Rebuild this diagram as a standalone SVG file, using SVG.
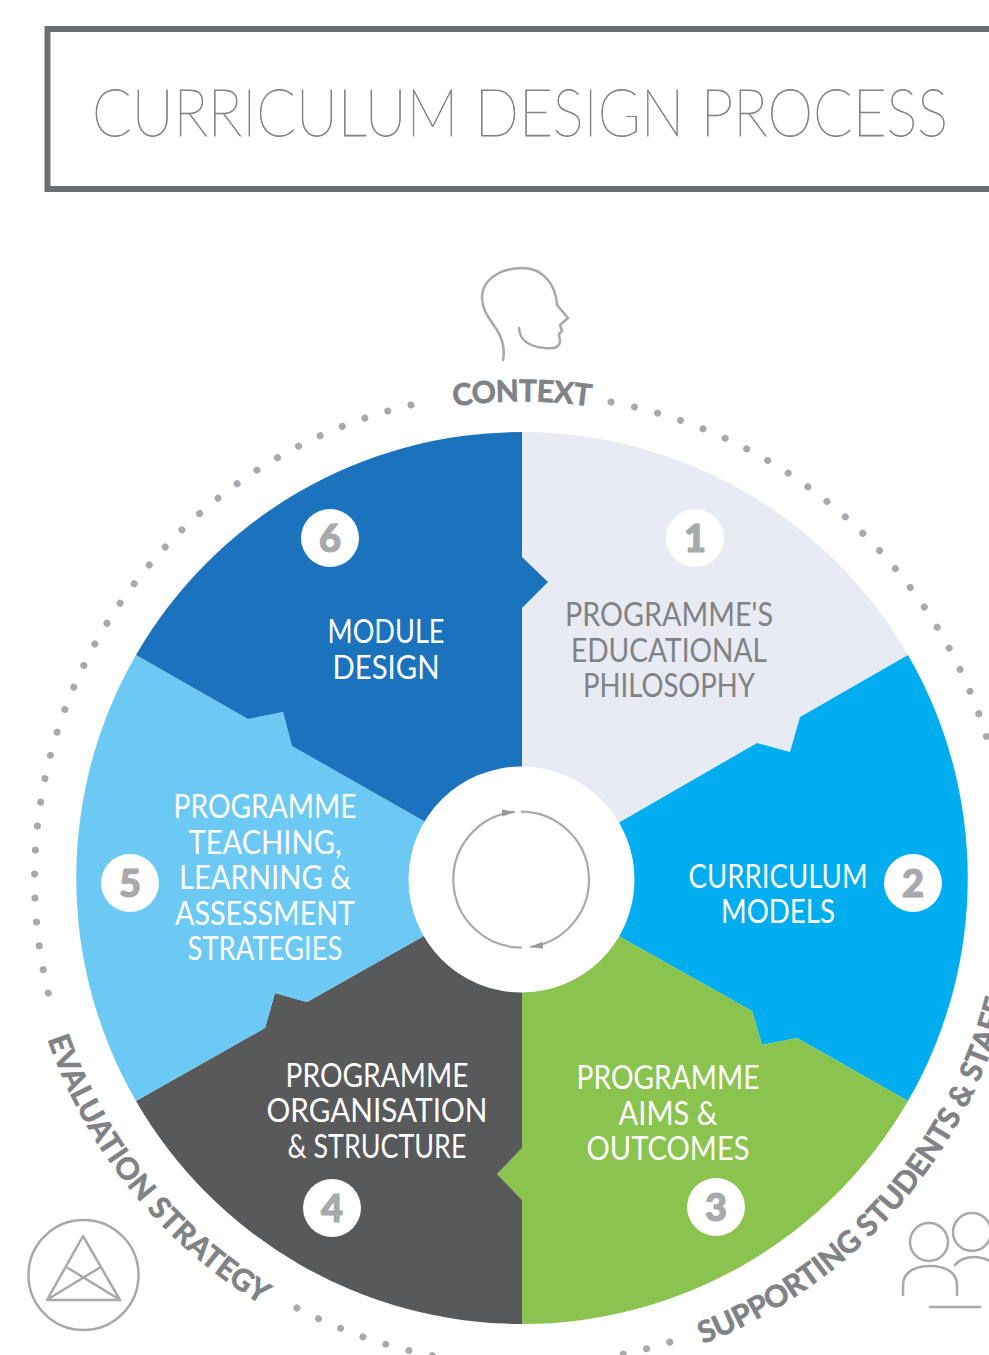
<svg xmlns="http://www.w3.org/2000/svg" width="989" height="1355" viewBox="0 0 989 1355">
<style>
text{font-family:"Lato","Liberation Sans",sans-serif}
.ttl{font-size:67px;font-weight:100;fill:#808285;stroke:#808285;stroke-width:.8;text-anchor:middle}
.lbl{font-size:33px;font-weight:400;text-anchor:middle;fill:#fff}
.dk{fill:#808285}
.num{font-size:38px;font-weight:900;fill:#a7a9ac;text-anchor:middle;stroke:#a7a9ac;stroke-width:1.2}
.arc{font-size:30px;font-weight:700;fill:#808285;stroke:#808285;stroke-width:.7}
.dots{fill:none;stroke:#a7a9ac;stroke-width:7;stroke-linecap:round;stroke-dasharray:.01 24}
.ic{fill:none;stroke:#a7a9ac;stroke-width:2.5;stroke-linecap:round;stroke-linejoin:round}
.ring{fill:none;stroke:#a7a9ac;stroke-width:2.2}
.badge{fill:#fff}
</style>
<defs>
<marker id="ah" markerUnits="userSpaceOnUse" markerWidth="15" markerHeight="10" refX="13" refY="5" orient="auto"><path d="M13 5 L0 1.5 V8.5 Z" fill="#98999c"/></marker>
<path id="pEval" d="M47.5 1039 A500 500 0 0 0 311 1331"/>
<path id="pSupp" d="M703 1344 A500 500 0 0 0 1022 878"/>
<path id="pCtx" d="M284 465 A477 477 0 0 1 760 465"/>
</defs>
<rect width="989" height="1355" fill="#fff"/>
<g id="title">
<rect x="47.5" y="29" width="1000" height="160" fill="#fff" stroke="#6d6e71" stroke-width="6"/>
<text class="ttl" x="520" y="136" textLength="856" lengthAdjust="spacingAndGlyphs">CURRICULUM DESIGN PROCESS</text>
</g>
<g id="dotted-ring">
<path class="dots" d="M611 402 A486 486 0 0 1 1006 836"/>
<path class="dots" d="M411 405 A486 486 0 0 0 49 996"/>
<path class="dots" d="M297 1308 A486 486 0 0 0 670 1342"/>
</g>
<g id="seg1">
<path fill="#e8ebf3" d="M522 432 A446 446 0 0 1 908 655 L800 717 L790 752 L757 743 L620 822 L522 878 L522 608 L548 582 L522 557 Z"/>
<circle class="badge" cx="695" cy="538" r="29"/><text class="num" x="695" y="552">1</text>
<text class="lbl dk" x="669" y="626" textLength="208" lengthAdjust="spacingAndGlyphs">PROGRAMME'S</text>
<text class="lbl dk" x="669" y="662" textLength="196" lengthAdjust="spacingAndGlyphs">EDUCATIONAL</text>
<text class="lbl dk" x="669" y="697" textLength="172" lengthAdjust="spacingAndGlyphs">PHILOSOPHY</text>
</g>
<g id="seg2">
<path fill="#00aeef" d="M908 655 A446 446 0 0 1 908 1101 L797 1038 L762 1045 L752 1011 L622 938 L522 878 L620 822 L757 743 L790 752 L800 717 Z"/>
<circle class="badge" cx="913" cy="883" r="29"/><text class="num" x="913" y="897">2</text>
<text class="lbl" x="778" y="888" textLength="179" lengthAdjust="spacingAndGlyphs">CURRICULUM</text>
<text class="lbl" x="778" y="923" textLength="114" lengthAdjust="spacingAndGlyphs">MODELS</text>
</g>
<g id="seg3">
<path fill="#8bc34f" d="M908 1101 A446 446 0 0 1 522 1324 L522 1200 L497 1174 L522 1148 L522 878 L622 938 L752 1011 L762 1045 L797 1038 Z"/>
<circle class="badge" cx="716" cy="1207" r="29"/><text class="num" x="716" y="1221">3</text>
<text class="lbl" x="668" y="1089" textLength="183" lengthAdjust="spacingAndGlyphs">PROGRAMME</text>
<text class="lbl" x="668" y="1125" textLength="99" lengthAdjust="spacingAndGlyphs">AIMS &amp;</text>
<text class="lbl" x="668" y="1160" textLength="163" lengthAdjust="spacingAndGlyphs">OUTCOMES</text>
</g>
<g id="seg4">
<path fill="#58595b" d="M522 1324 A446 446 0 0 1 136 1101 L265 1028 L275 993 L307 1002 L422 937 L522 878 L522 1148 L497 1174 L522 1200 Z"/>
<circle class="badge" cx="332" cy="1208" r="29"/><text class="num" x="332" y="1222">4</text>
<text class="lbl" x="377" y="1087" textLength="183" lengthAdjust="spacingAndGlyphs">PROGRAMME</text>
<text class="lbl" x="377" y="1122" textLength="221" lengthAdjust="spacingAndGlyphs">ORGANISATION</text>
<text class="lbl" x="377" y="1158" textLength="179" lengthAdjust="spacingAndGlyphs">&amp; STRUCTURE</text>
</g>
<g id="seg5">
<path fill="#6cc9f3" d="M136 1101 A446 446 0 0 1 136 655 L248 719 L283 712 L292 746 L422 820 L522 878 L422 937 L307 1002 L275 993 L265 1028 Z"/>
<circle class="badge" cx="130" cy="883" r="29"/><text class="num" x="130" y="897">5</text>
<text class="lbl" x="265" y="818" textLength="183" lengthAdjust="spacingAndGlyphs">PROGRAMME</text>
<text class="lbl" x="265" y="854" textLength="153" lengthAdjust="spacingAndGlyphs">TEACHING,</text>
<text class="lbl" x="265" y="889" textLength="172" lengthAdjust="spacingAndGlyphs">LEARNING &amp;</text>
<text class="lbl" x="265" y="925" textLength="180" lengthAdjust="spacingAndGlyphs">ASSESSMENT</text>
<text class="lbl" x="265" y="960" textLength="155" lengthAdjust="spacingAndGlyphs">STRATEGIES</text>
</g>
<g id="seg6">
<path fill="#1b72bd" d="M136 655 A446 446 0 0 1 522 432 L522 557 L548 582 L522 608 L522 878 L422 820 L292 746 L283 712 L248 719 Z"/>
<circle class="badge" cx="330" cy="538" r="29"/><text class="num" x="330" y="552">6</text>
<text class="lbl" x="386" y="643" textLength="117" lengthAdjust="spacingAndGlyphs">MODULE</text>
<text class="lbl" x="386" y="679" textLength="107" lengthAdjust="spacingAndGlyphs">DESIGN</text>
</g>
<g id="hub"><circle cx="521.5" cy="879.5" r="113" fill="#fff"/></g>
<g id="connectors">
<path class="ring" d="M521 811.6 A68 68 0 0 1 530 947" marker-end="url(#ah)"/>
<path class="ring" d="M522 947.5 A68 68 0 0 1 515 811.8" marker-end="url(#ah)"/>
</g>
<g id="context">
<path class="ic" d="M503 360 C505 350 503 340 497 330 C490 320 482 310 482 297 C482 282 497 268 523 268 C543 268 556 285 557 305 L568 318 L560 325 L562 331 L559 334 L560 342 C559 348 553 349 545 348 C532 347 520 343 519 328"/>
<text class="arc" text-anchor="middle"><textPath href="#pCtx" startOffset="50%" textLength="137">CONTEXT</textPath></text>
</g>
<g id="evaluation">
<circle class="ic" cx="83.5" cy="1275" r="55"/>
<path class="ic" d="M83 1236 L47 1300 H120 Z M50 1298 L99 1268 M68 1268 L117 1298"/>
<text class="arc"><textPath href="#pEval" textLength="348">EVALUATION STRATEGY</textPath></text>
</g>
<g id="supporting">
<circle class="ic" cx="929" cy="1242" r="19"/>
<path class="ic" d="M903 1295 V1285 C903 1272 915 1266 930 1266 C945 1266 957 1272 957 1285 V1295"/>
<circle class="ic" cx="972" cy="1232" r="19"/>
<path class="ic" d="M955 1265 C960 1259 966 1257 974 1257 C985 1257 995 1262 998 1272"/>
<path class="ic" d="M930 1307 H980" stroke-width="3"/>
<text class="arc"><textPath href="#pSupp">SUPPORTING STUDENTS &amp; STAFF</textPath></text>
</g>
</svg>
